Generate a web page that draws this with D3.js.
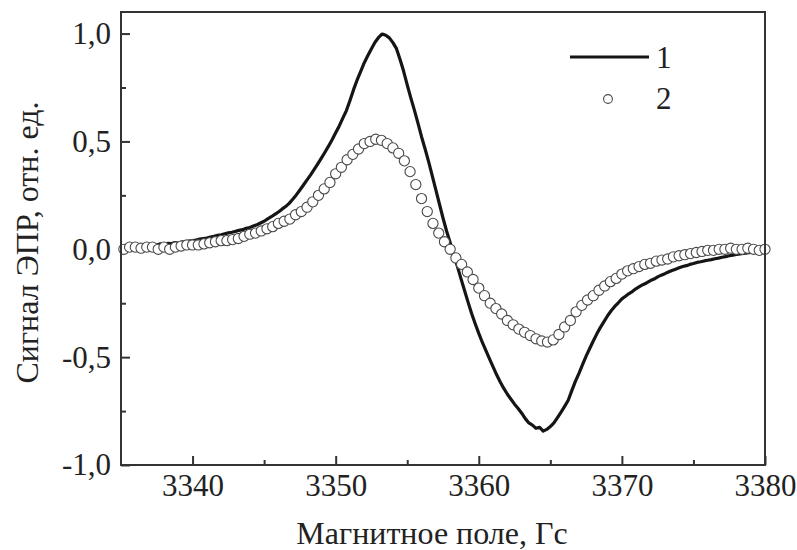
<!DOCTYPE html>
<html>
<head>
<meta charset="utf-8">
<script src="https://cdn.jsdelivr.net/npm/d3@7"></script>
<style>
  body { margin: 0; background: #fff; }
  svg text { font-family: "Liberation Serif", "Times New Roman", serif; fill: #222; }
</style>
</head>
<body>
<div id="chart"></div>
<script>
// field axis, Gs
var xTicks = [3340, 3350, 3360, 3370, 3380];
var yTicks = [-1.0, -0.5, 0.0, 0.5, 1.0];
var xTitle = 'Магнитное поле, Гс';
var yTitle = 'Сигнал ЭПР, отн. ед.';
var seriesNames = ['1', '2'];

// series 1 (solid line): sampled every 0.25 Gs from 3335
var line1Start = 3335, line1Step = 0.25;
var line1Values = [
  0.010, 0.012, 0.008, 0.015,      // 3335
  0.013, 0.018, 0.015, 0.020,      // 3336
  0.017, 0.022, 0.020, 0.025,      // 3337
  0.022, 0.027, 0.026, 0.031,      // 3338
  0.029, 0.034, 0.033, 0.038,      // 3339
  0.040, 0.043, 0.047, 0.050,      // 3340
  0.052, 0.057, 0.060, 0.065,      // 3341
  0.067, 0.072, 0.076, 0.079,      // 3342
  0.083, 0.088, 0.091, 0.097,      // 3343
  0.101, 0.108, 0.114, 0.122,      // 3344
  0.130, 0.141, 0.151, 0.162,      // 3345
  0.173, 0.186, 0.198, 0.213,      // 3346
  0.232, 0.252, 0.275, 0.298,      // 3347
  0.322, 0.345, 0.370, 0.396,      // 3348
  0.423, 0.450, 0.478, 0.508,      // 3349
  0.540, 0.572, 0.608, 0.643,      // 3350
  0.690, 0.740, 0.785, 0.825,      // 3351
  0.865, 0.898, 0.930, 0.960,      // 3352
  0.982, 0.998, 0.992, 0.980,      // 3353
  0.958, 0.930, 0.880, 0.825,      // 3354
  0.762, 0.702, 0.645, 0.585,      // 3355
  0.522, 0.465, 0.405, 0.340,      // 3356
  0.275, 0.210, 0.145, 0.085,      // 3357
  0.030, -0.025, -0.078, -0.135,   // 3358
  -0.190, -0.245, -0.298, -0.345,  // 3359
  -0.390, -0.432, -0.470, -0.508,  // 3360
  -0.545, -0.582, -0.615, -0.645,  // 3361
  -0.672, -0.695, -0.718, -0.738,  // 3362
  -0.760, -0.785, -0.805, -0.815,  // 3363
  -0.830, -0.825, -0.843, -0.835,  // 3364
  -0.822, -0.805, -0.780, -0.755,  // 3365
  -0.728, -0.700, -0.655, -0.612,  // 3366
  -0.575, -0.535, -0.495, -0.460,  // 3367
  -0.425, -0.392, -0.362, -0.335,  // 3368
  -0.308, -0.285, -0.265, -0.248,  // 3369
  -0.230, -0.218, -0.205, -0.195,  // 3370
  -0.182, -0.172, -0.163, -0.155,  // 3371
  -0.145, -0.138, -0.128, -0.120,  // 3372
  -0.113, -0.105, -0.098, -0.092,  // 3373
  -0.086, -0.080, -0.076, -0.070,  // 3374
  -0.066, -0.061, -0.058, -0.054,  // 3375
  -0.051, -0.048, -0.044, -0.041,  // 3376
  -0.037, -0.034, -0.030, -0.027,  // 3377
  -0.024, -0.021, -0.019, -0.017,  // 3378
  -0.015, -0.014, -0.012, -0.011,  // 3379
  -0.010                           // 3380
];

// series 2 (open circles): sampled every 0.4 Gs from 3335.2
var dots2Start = 3335.2, dots2Step = 0.4;
var dots2Values = [
  0.000, 0.010, 0.010, 0.005, 0.010,       // 3335.2
  0.010, 0.000, 0.010, 0.000, 0.010,       // 3337.2
  0.015, 0.020, 0.020, 0.020, 0.025,       // 3339.2
  0.030, 0.035, 0.040, 0.040, 0.045,       // 3341.2
  0.050, 0.060, 0.070, 0.075, 0.085,       // 3343.2
  0.095, 0.105, 0.120, 0.130, 0.140,       // 3345.2
  0.160, 0.175, 0.195, 0.220, 0.250,       // 3347.2
  0.280, 0.310, 0.350, 0.380, 0.415,       // 3349.2
  0.440, 0.465, 0.490, 0.500, 0.510,       // 3351.2
  0.505, 0.490, 0.470, 0.445, 0.410,       // 3353.2
  0.360, 0.300, 0.235, 0.175, 0.120,       // 3355.2
  0.075, 0.035, 0.000, -0.040, -0.070,     // 3357.2
  -0.105, -0.140, -0.180, -0.215, -0.250,  // 3359.2
  -0.275, -0.300, -0.330, -0.350, -0.370,  // 3361.2
  -0.385, -0.400, -0.415, -0.425, -0.430,  // 3363.2
  -0.420, -0.395, -0.360, -0.330, -0.290,  // 3365.2
  -0.260, -0.235, -0.215, -0.190, -0.170,  // 3367.2
  -0.150, -0.135, -0.115, -0.100, -0.090,  // 3369.2
  -0.080, -0.070, -0.065, -0.055, -0.050,  // 3371.2
  -0.045, -0.035, -0.030, -0.025, -0.020,  // 3373.2
  -0.015, -0.010, -0.005, -0.005, 0.000,   // 3375.2
  0.000, 0.005, 0.000, 0.000, 0.005,       // 3377.2
  0.000, -0.005, 0.000                     // 3379.2
];

var width = 797, height = 550;
var margin = { left: 121, right: 32, top: 12, bottom: 85 };
var innerW = width - margin.left - margin.right;
var innerH = height - margin.top - margin.bottom;
var serif = '"Liberation Serif", "Times New Roman", serif';

var line1 = line1Values.map(function (v, i) { return { x: line1Start + i * line1Step, y: v }; });
var dots2 = dots2Values.map(function (v, i) { return { x: dots2Start + i * dots2Step, y: v }; });

var x = d3.scaleLinear().domain([3335, 3380]).range([0, innerW]);
var y = d3.scaleLinear().domain([-1.0, 1.1]).range([innerH, 0]);

var svg = d3.select('#chart').append('svg')
    .attr('width', width)
    .attr('height', height);
var g = svg.append('g')
    .attr('transform', 'translate(' + margin.left + ',' + margin.top + ')');

var fmt = function (d) { return d3.format('.1f')(d).replace('.', ',').replace('−', '-'); };

// minor ticks (inward)
var xMinor = d3.axisBottom(x).tickValues([3345, 3355, 3365, 3375]).tickSize(-5).tickFormat('');
var yMinor = d3.axisLeft(y).tickValues([-0.75, -0.25, 0.25, 0.75]).tickSize(-5).tickFormat('');
g.append('g').attr('transform', 'translate(0,' + innerH + ')').call(xMinor);
g.append('g').call(yMinor);

var xAxis = g.append('g')
    .attr('transform', 'translate(0,' + innerH + ')')
    .call(d3.axisBottom(x).tickValues(xTicks).tickSize(-9).tickFormat(d3.format('d')));
var yAxis = g.append('g')
    .call(d3.axisLeft(y).tickValues(yTicks).tickSize(-9).tickFormat(fmt));

g.selectAll('.domain').remove();
g.selectAll('.tick line').attr('stroke', '#333').attr('stroke-width', 2);
xAxis.attr('font-family', serif);
yAxis.attr('font-family', serif);
xAxis.selectAll('text').style('font-size', '31px').attr('fill', '#222').attr('dy', '0.71em').attr('y', 9);
yAxis.selectAll('text').style('font-size', '31px').attr('fill', '#222').attr('x', -10);

// series 1 line
g.append('path')
    .datum(line1)
    .attr('fill', 'none')
    .attr('stroke', '#151515')
    .attr('stroke-width', 3.2)
    .attr('stroke-linejoin', 'round')
    .attr('d', d3.line().x(function (d) { return x(d.x); }).y(function (d) { return y(d.y); }));

// series 2 circles
g.selectAll('circle.s2')
    .data(dots2)
    .enter()
    .append('circle')
    .attr('class', 's2')
    .attr('cx', function (d) { return x(d.x); })
    .attr('cy', function (d) { return y(d.y); })
    .attr('r', 5.1)
    .attr('fill', '#fff')
    .attr('stroke', '#4a4a4a')
    .attr('stroke-width', 1.1);

// frame
g.append('rect')
    .attr('width', innerW)
    .attr('height', innerH)
    .attr('fill', 'none')
    .attr('stroke', '#333')
    .attr('stroke-width', 2);

// titles
svg.append('text')
    .attr('x', margin.left + innerW / 2 - 11)
    .attr('y', 544)
    .attr('text-anchor', 'middle')
    .attr('font-family', serif)
    .style('font-size', '32px')
    .text(xTitle);
svg.append('text')
    .attr('transform', 'translate(38,' + (margin.top + innerH / 2 + 4) + ') rotate(-90)')
    .attr('text-anchor', 'middle')
    .attr('font-family', serif)
    .style('font-size', '32px')
    .text(yTitle);

// legend
var legend = svg.append('g');
legend.append('line')
    .attr('x1', 570).attr('x2', 649)
    .attr('y1', 57).attr('y2', 57)
    .attr('stroke', '#151515')
    .attr('stroke-width', 3);
legend.append('circle')
    .attr('cx', 608).attr('cy', 99).attr('r', 4.4)
    .attr('fill', '#fff').attr('stroke', '#4a4a4a').attr('stroke-width', 1.1);
legend.selectAll('text.lg')
    .data(seriesNames)
    .enter()
    .append('text')
    .attr('class', 'lg')
    .attr('x', 656)
    .attr('y', function (d, i) { return 68 + i * 41; })
    .attr('font-family', serif)
    .style('font-size', '31px')
    .text(function (d) { return d; });
</script>
</body>
</html>
